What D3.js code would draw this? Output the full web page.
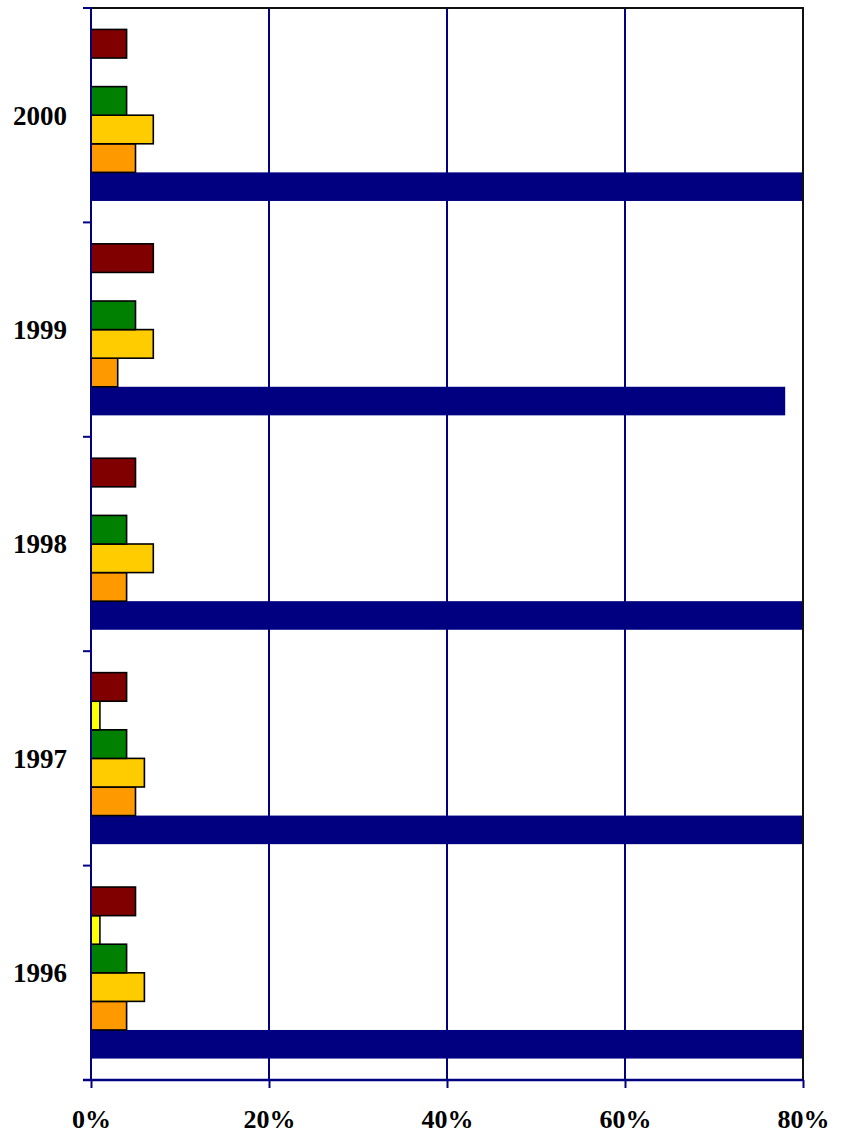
<!DOCTYPE html>
<html>
<head>
<meta charset="utf-8">
<script src="https://cdn.jsdelivr.net/npm/d3@7"></script>
<style>
  body { margin: 0; background: #fff; }
  svg { display: block; }
</style>
</head>
<body>
<svg width="845" height="1133"></svg>
<script>
// categories, bottom to top
const years = ["1996", "1997", "1998", "1999", "2000"];

// series values in percent (bottom bar of each group first)
const navyVals    = [85, 85, 85, 78, 85];
const orangeVals  = [4, 5, 4, 3, 5];
const goldVals    = [6, 6, 7, 7, 7];
const greenVals   = [4, 4, 4, 5, 4];
const yellowVals  = [1, 1, 0, 0, 0];
const darkredVals = [5, 4, 5, 7, 4];

const xTicks = [0, 20, 40, 60, 80];

const series = [
  { name: "navy", values: navyVals, color: "#000080", stroke: "none" },
  { name: "orange", values: orangeVals, color: "#FF9900", stroke: "#000" },
  { name: "gold", values: goldVals, color: "#FFCC00", stroke: "#000" },
  { name: "green", values: greenVals, color: "#008000", stroke: "#000" },
  { name: "yellow", values: yellowVals, color: "#FFFF00", stroke: "#000" },
  { name: "darkred", values: darkredVals, color: "#800000", stroke: "#000" }
];

const svg = d3.select("svg");
const mLeft = 91, mRight = 803, mTop = 8, mBottom = 1080;

const x = d3.scaleLinear().domain([0, 80]).range([mLeft, mRight]);

// categories from bottom to top
const y = d3.scaleBand()
  .domain(years)
  .range([mBottom, mTop])
  .paddingInner(0)
  .paddingOuter(0);

// Excel gap width 150% -> slot = band / 7.5
const slot = y.bandwidth() / 7.5;

svg.append("defs").append("clipPath").attr("id", "plot")
  .append("rect")
  .attr("x", mLeft).attr("y", mTop)
  .attr("width", mRight - mLeft).attr("height", mBottom - mTop);

// gridlines
svg.append("g")
  .selectAll("line")
  .data(xTicks.slice(1, -1))
  .join("line")
  .attr("x1", d => x(d)).attr("x2", d => x(d))
  .attr("y1", mTop).attr("y2", mBottom)
  .attr("stroke", "#000080")
  .attr("stroke-width", 2);

// bars
const bars = [];
years.forEach((yr, i) => {
  series.forEach((s, j) => {
    if (s.values[i] > 0) {
      bars.push({ year: yr, s: s, v: s.values[i], j: j });
    }
  });
});

svg.append("g")
  .attr("clip-path", "url(#plot)")
  .selectAll("rect")
  .data(bars)
  .join("rect")
  .attr("x", x(0))
  .attr("width", d => x(d.v) - x(0))
  // bottom bar (j=0) sits lowest in the band
  .attr("y", d => y(d.year) + y.bandwidth() - 0.75 * slot - (d.j + 1) * slot)
  .attr("height", slot)
  .attr("fill", d => d.s.color)
  .attr("stroke", d => d.s.stroke)
  .attr("stroke-width", 1.6);

// plot frame top and right
svg.append("path")
  .attr("d", `M${mLeft},${mTop}H${mRight}V${mBottom}`)
  .attr("fill", "none")
  .attr("stroke", "#111")
  .attr("stroke-width", 2);

// y axis
const yAxis = svg.append("g")
  .attr("transform", `translate(${mLeft},0)`);
yAxis.append("line")
  .attr("x1", 0).attr("x2", 0)
  .attr("y1", mTop).attr("y2", mBottom)
  .attr("stroke", "#000080").attr("stroke-width", 2);
yAxis.selectAll("line.tick")
  .data(years.map(d => y(d)).concat([mBottom]))
  .join("line")
  .attr("class", "tick")
  .attr("x1", -8).attr("x2", 0)
  .attr("y1", d => d).attr("y2", d => d)
  .attr("stroke", "#000080").attr("stroke-width", 2);
yAxis.selectAll("text")
  .data(years)
  .join("text")
  .attr("x", -24)
  .attr("y", d => y(d) + y.bandwidth() / 2)
  .attr("dy", "0.35em")
  .attr("text-anchor", "end")
  .attr("font-family", "Liberation Serif, Times New Roman, serif")
  .attr("font-weight", "bold")
  .attr("font-size", 27)
  .text(d => d);

// x axis
const xAxis = svg.append("g")
  .attr("transform", `translate(0,${mBottom})`)
  .call(d3.axisBottom(x)
    .tickValues(xTicks)
    .tickSize(8)
    .tickPadding(22)
    .tickFormat(d => d + "%"));
xAxis.select(".domain")
  .attr("d", `M${mLeft - 8},0H${mRight}`)
  .attr("stroke", "#000080")
  .attr("stroke-width", 2.5);
xAxis.selectAll(".tick line")
  .attr("stroke", "#000080")
  .attr("stroke-width", 2);
xAxis.selectAll(".tick text")
  .attr("fill", "#000")
  .attr("font-family", "Liberation Serif, Times New Roman, serif")
  .attr("font-weight", "bold")
  .attr("font-size", 26);
</script>
</body>
</html>
